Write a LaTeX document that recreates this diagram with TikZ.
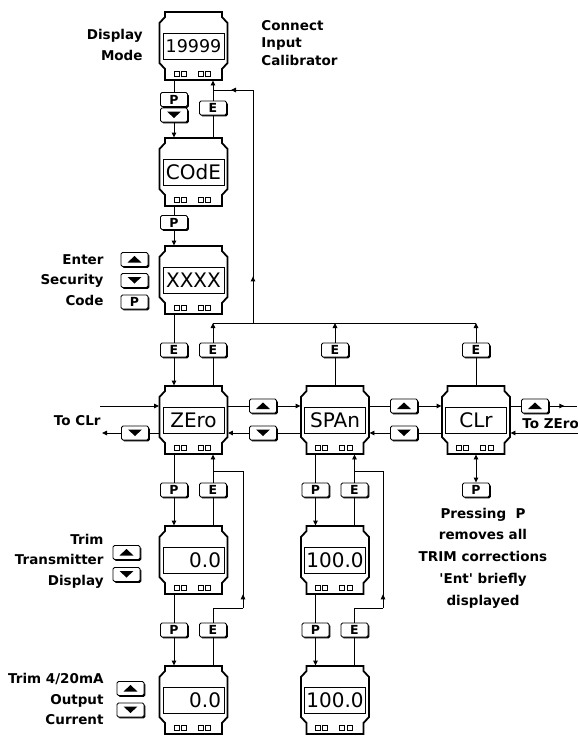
\documentclass[tikz,border=0pt]{standalone}
\usepackage{fontspec}
\setmainfont{DejaVu Sans}
\usetikzlibrary{arrows.meta,calc,decorations.markings,shadows}

\tikzset{
  lcdshape/.pic={
    \draw[line width=1.8pt, line join=miter] (-28.5,0) -- (28.5,0) -- (28.5,5) -- (34,11) -- (34,51) -- (28.5,57) -- (28.5,68) -- (-28.5,68) -- (-28.5,57) -- (-34,51) -- (-34,11) -- (-28.5,5) -- cycle;
    \draw[line width=2.6pt] (-28.5,68) -- (28.5,68);
    \draw[line width=1pt] (-30.5,21) rectangle (30.5,47);
    \foreach \bx in {-19.5,-12.5,4.5,12} \draw[line width=0.8pt] (\bx,59) rectangle ++(5,5);
  },
  lcdtext/.style={minimum width=68pt, minimum height=68pt, inner sep=0pt, font=\fontsize{20}{22}\selectfont},
  smalltxt/.style={font=\fontsize{17.5}{20}\selectfont},
  rtext/.style={text width=55pt, align=right},
  key/.style={draw, line width=0.9pt, rounded corners=1.5pt, fill=white, minimum width=27pt, minimum height=14pt, inner sep=0pt, font=\fontsize{12.5}{12.5}\selectfont\bfseries, drop shadow={shadow xshift=1.3pt, shadow yshift=-1.3pt, fill=black, opacity=1}},
  upkey/.style={key, path picture={\fill[black, sharp corners] ($(path picture bounding box.center)+(-7,3)$) -- ++(14,0) -- ++(-7,-6.5) -- cycle;}},
  downkey/.style={key, path picture={\fill[black, sharp corners] ($(path picture bounding box.center)+(-7,-3.5)$) -- ++(14,0) -- ++(-7,6.5) -- cycle;}},
  arrowat/.style={postaction={decorate}, decoration={markings, mark=at position #1 with {\arrow{Triangle[length=5pt,width=4.5pt]}}}},
  lbl/.style={font=\fontsize{13.5}{20.5}\selectfont\bfseries, inner sep=0pt}
}

\newcommand\lcdunit[5][]{%
  \pic at (#3,#4) {lcdshape};
  \node[lcdtext,#1] (#2) at (#3,#4+34) {#5};
}

\begin{document}
\begin{tikzpicture}[x=1pt,y=-1pt, line width=0.9pt, >={Triangle[length=5pt,width=4.5pt]}]
\fill[white] (0,0) rectangle (578,737);
\useasboundingbox (0,0) rectangle (578,737);

% displays
\lcdunit[smalltxt]{dmode}{193.5}{12}{19999}
\lcdunit{code}{193.5}{138}{COdE}
\lcdunit{secc}{193.5}{246}{XXXX}
\lcdunit{zero}{193.5}{386}{ZEro}
\lcdunit{span}{335}{386}{SPAn}
\lcdunit{clr}{476}{386}{CLr}
\lcdunit[rtext]{tzero}{193.5}{526}{0.0}
\lcdunit{tspan}{335}{526}{100.0}
\lcdunit[rtext]{ozero}{193.5}{666}{0.0}
\lcdunit{ospan}{335}{666}{100.0}

% keys
\node[key] (kP1) at (174,99.5) {P};
\node[downkey] (kD1) at (174,115) {};
\node[key] (kE1) at (213,108) {E};
\node[key] (kP2) at (174,222.5) {P};
\node[upkey] (kUs) at (134.5,259.5) {};
\node[downkey] (kDs) at (134.5,280.5) {};
\node[key] (kPs) at (134.5,302) {P};
\node[key] (kEa) at (174,350) {E};
\node[key] (kEb) at (213,350) {E};
\node[key] (kEs) at (335,350) {E};
\node[key] (kEc) at (476,350) {E};
\node[downkey] (kDl) at (135,433) {};
\node[upkey] (kU1) at (263,406) {};
\node[downkey] (kD2) at (263,433) {};
\node[upkey] (kU2) at (404,406) {};
\node[downkey] (kD3) at (404,433) {};
\node[upkey] (kU3) at (535,406) {};
\node[key] (kP3) at (174,490) {P};
\node[key] (kE3) at (213,490) {E};
\node[key] (kP5) at (315.5,490) {P};
\node[key] (kE5) at (354.5,490) {E};
\node[key] (kPc) at (476,490) {P};
\node[upkey] (kUt) at (126.5,552.5) {};
\node[downkey] (kDt) at (126.5,574.5) {};
\node[key] (kP4) at (174,630) {P};
\node[key] (kE4) at (213,630) {E};
\node[key] (kP6) at (315.5,630) {P};
\node[key] (kE6) at (354.5,630) {E};
\node[upkey] (kUo) at (130.5,688.5) {};
\node[downkey] (kDo) at (130.5,710) {};

% free coordinates
\coordinate (busL) at (213,323);
\coordinate (busR) at (476,323);
\coordinate (busV) at (253,323);
\coordinate (retT) at (253,90);
\coordinate (toclrU) at (100,406);
\coordinate (toclrL) at (102,433);
\coordinate (tozU) at (577,406);
\coordinate (tozL) at (578,433);
\coordinate (r1b) at (243,608);
\coordinate (r1t) at (243,471);
\coordinate (r2b) at (383,608);
\coordinate (r2t) at (383,471);

% connectors, top column
\draw (dmode.south -| kP1) -- (kP1.north);
\draw[->] (kD1.south) -- (code.north -| kD1);
\draw (code.north -| kE1) -- (kE1.south);
\draw[->] (kE1.north) -- (dmode.south -| kE1);
\draw[arrowat=0.2] (busV) -- (retT);
\draw[arrowat=0.55] (retT) -- (retT -| kE1);
\draw (code.south -| kP2) -- (kP2.north);
\draw[->] (kP2.south) -- (secc.north -| kP2);
\draw (secc.south -| kEa) -- (kEa.north);
\draw[->] (kEa.south) -- (zero.north -| kEa);
\draw (zero.north -| kEb) -- (kEb.south);
\draw[->] (kEb.north) -- (busL);
\draw (busL) -- (busR);
\draw (span.north) -- (kEs.south);
\draw[->] (kEs.north) -- (kEs |- busL);
\draw (clr.north) -- (kEc.south);
\draw[->] (kEc.north) -- (busR);

% horizontal row
\draw[->] (toclrU) -- (toclrU -| zero.west);
\draw (zero.west |- kDl) -- (kDl.east);
\draw[->] (kDl.west) -- (toclrL);
\draw (zero.east |- kU1) -- (kU1.west);
\draw[->] (kU1.east) -- (span.west |- kU1);
\draw (span.west |- kD2) -- (kD2.east);
\draw[->] (kD2.west) -- (zero.east |- kD2);
\draw (span.east |- kU2) -- (kU2.west);
\draw[->] (kU2.east) -- (clr.west |- kU2);
\draw (clr.west |- kD3) -- (kD3.east);
\draw[->] (kD3.west) -- (span.east |- kD3);
\draw (clr.east |- kU3) -- (kU3.west);
\draw[arrowat=0.55] (kU3.east) -- (tozU);
\draw[->] (tozL) -- (clr.east |- tozL);

% below ZEro
\draw (zero.south -| kP3) -- (kP3.north);
\draw[->] (kP3.south) -- (tzero.north -| kP3);
\draw (tzero.north -| kE3) -- (kE3.south);
\draw[->] (kE3.north) -- (zero.south -| kE3);
\draw (tzero.south -| kP4) -- (kP4.north);
\draw[->] (kP4.south) -- (ozero.north -| kP4);
\draw (ozero.north -| kE4) -- (kE4.south);
\draw (kE4.north) |- (r1b);
\draw[arrowat=0.1] (r1b) -- (r1t);
\draw (r1t) -- (r1t -| kE3);

% below SPAn
\draw (span.south -| kP5) -- (kP5.north);
\draw[->] (kP5.south) -- (tspan.north -| kP5);
\draw (tspan.north -| kE5) -- (kE5.south);
\draw[->] (kE5.north) -- (span.south -| kE5);
\draw (tspan.south -| kP6) -- (kP6.north);
\draw[->] (kP6.south) -- (ospan.north -| kP6);
\draw (ospan.north -| kE6) -- (kE6.south);
\draw (kE6.north) |- (r2b);
\draw[arrowat=0.1] (r2b) -- (r2t);
\draw (r2t) -- (r2t -| kE5);

% below CLr
\draw[<->] (clr.south) -- (kPc.north);

% labels
\node[lbl, align=right, anchor=east] (dmlbl) at (143,45) {Display\\Mode};
\node[lbl, align=left, anchor=west, font=\fontsize{13.5}{17.5}\selectfont\bfseries] (cic) at (261,43) {Connect\\Input\\Calibrator};
\node[lbl, align=right, anchor=east] (esc) at (104,280) {Enter\\Security\\Code};
\node[lbl, align=right, anchor=east] (ttd) at (104,561) {Trim\\Transmitter\\Display};
\node[lbl, align=right, anchor=east] (toc) at (104,699) {Trim 4/20mA\\Output\\Current};
\node[lbl, align=center, font=\fontsize{13.5}{21.7}\selectfont\bfseries] (press) at (483,558) {Pressing~~P\\removes all\\TRIM corrections\\\textquotesingle Ent\textquotesingle{} briefly\\displayed};
\node[lbl, anchor=east] (toclr) at (101,421) {To CLr};
\node[lbl, anchor=west] (tozero) at (522,424) {To ZEro};
\end{tikzpicture}
\end{document}
